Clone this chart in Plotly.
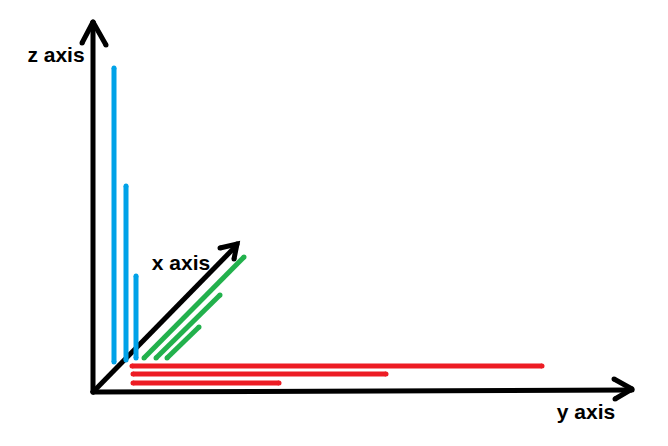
import plotly.graph_objects as go

# Drawing coordinate system (pixels of the sketch; y grows downward)
# Axis strokes: [x0, y0, x1, y1]
axis_z = [93, 392, 93, 22]
axis_y = [93, 392, 632, 390]
axis_x = [93, 392, 236, 246]
arrow_z = [[82, 43], [93, 22], [106, 45]]
arrow_y = [[614, 379], [632, 389], [615, 399]]
arrow_x = [[220, 248], [237, 244], [234, 259]]

# Blue bars (z direction): x position, bottom, top
z_x = [114, 126, 136]
z_bottom = [362, 360, 358]
z_top = [68, 186, 276]

# Green bars (x direction): start and end points
x_start_x = [144, 156, 167]
x_start_y = [358, 358, 358]
x_end_x = [244, 220, 199]
x_end_y = [257, 295, 327]

# Red bars (y direction): row, start, end
y_row = [366, 374, 383]
y_start = [132, 133, 133]
y_end = [542, 386, 279]

labels = ["z axis", "x axis", "y axis"]
label_x = [56, 181, 586]
label_y = [57, 265, 414]

BLACK = "#000000"
BLUE = "#00a2e8"
GREEN = "#22b14c"
RED = "#ed1c24"

fig = go.Figure()

def stroke(xs, ys, color, width):
    fig.add_trace(go.Scatter(
        x=xs, y=ys, mode="lines+markers",
        line=dict(color=color, width=width),
        marker=dict(color=color, size=width, line=dict(width=0)),
        hoverinfo="skip", showlegend=False))

for a in (axis_z, axis_y, axis_x):
    stroke([a[0], a[2]], [a[1], a[3]], BLACK, 5)
for arr in (arrow_z, arrow_y, arrow_x):
    stroke([p[0] for p in arr], [p[1] for p in arr], BLACK, 5)

for xv, b, t in zip(z_x, z_bottom, z_top):
    stroke([xv, xv], [b, t], BLUE, 5)
for x0, y0, x1, y1 in zip(x_start_x, x_start_y, x_end_x, x_end_y):
    stroke([x0, x1], [y0, y1], GREEN, 5)
for r, s, e in zip(y_row, y_start, y_end):
    stroke([s, e], [r, r], RED, 5)

fig.add_trace(go.Scatter(
    x=label_x, y=label_y, mode="text",
    text=["<b>%s</b>" % t for t in labels],
    textfont=dict(family="Liberation Sans, Arial", size=21, color=BLACK),
    textposition="middle center", hoverinfo="skip", showlegend=False))

fig.update_layout(
    width=668, height=446,
    margin=dict(l=0, r=0, t=0, b=0),
    paper_bgcolor="white", plot_bgcolor="white",
    xaxis=dict(range=[0, 668], visible=False, fixedrange=True),
    yaxis=dict(range=[446, 0], visible=False, fixedrange=True),
)

fig.write_html("out.html", config={"displayModeBar": False},
               post_script="document.body.style.margin='0';document.body.style.overflow='hidden';")
